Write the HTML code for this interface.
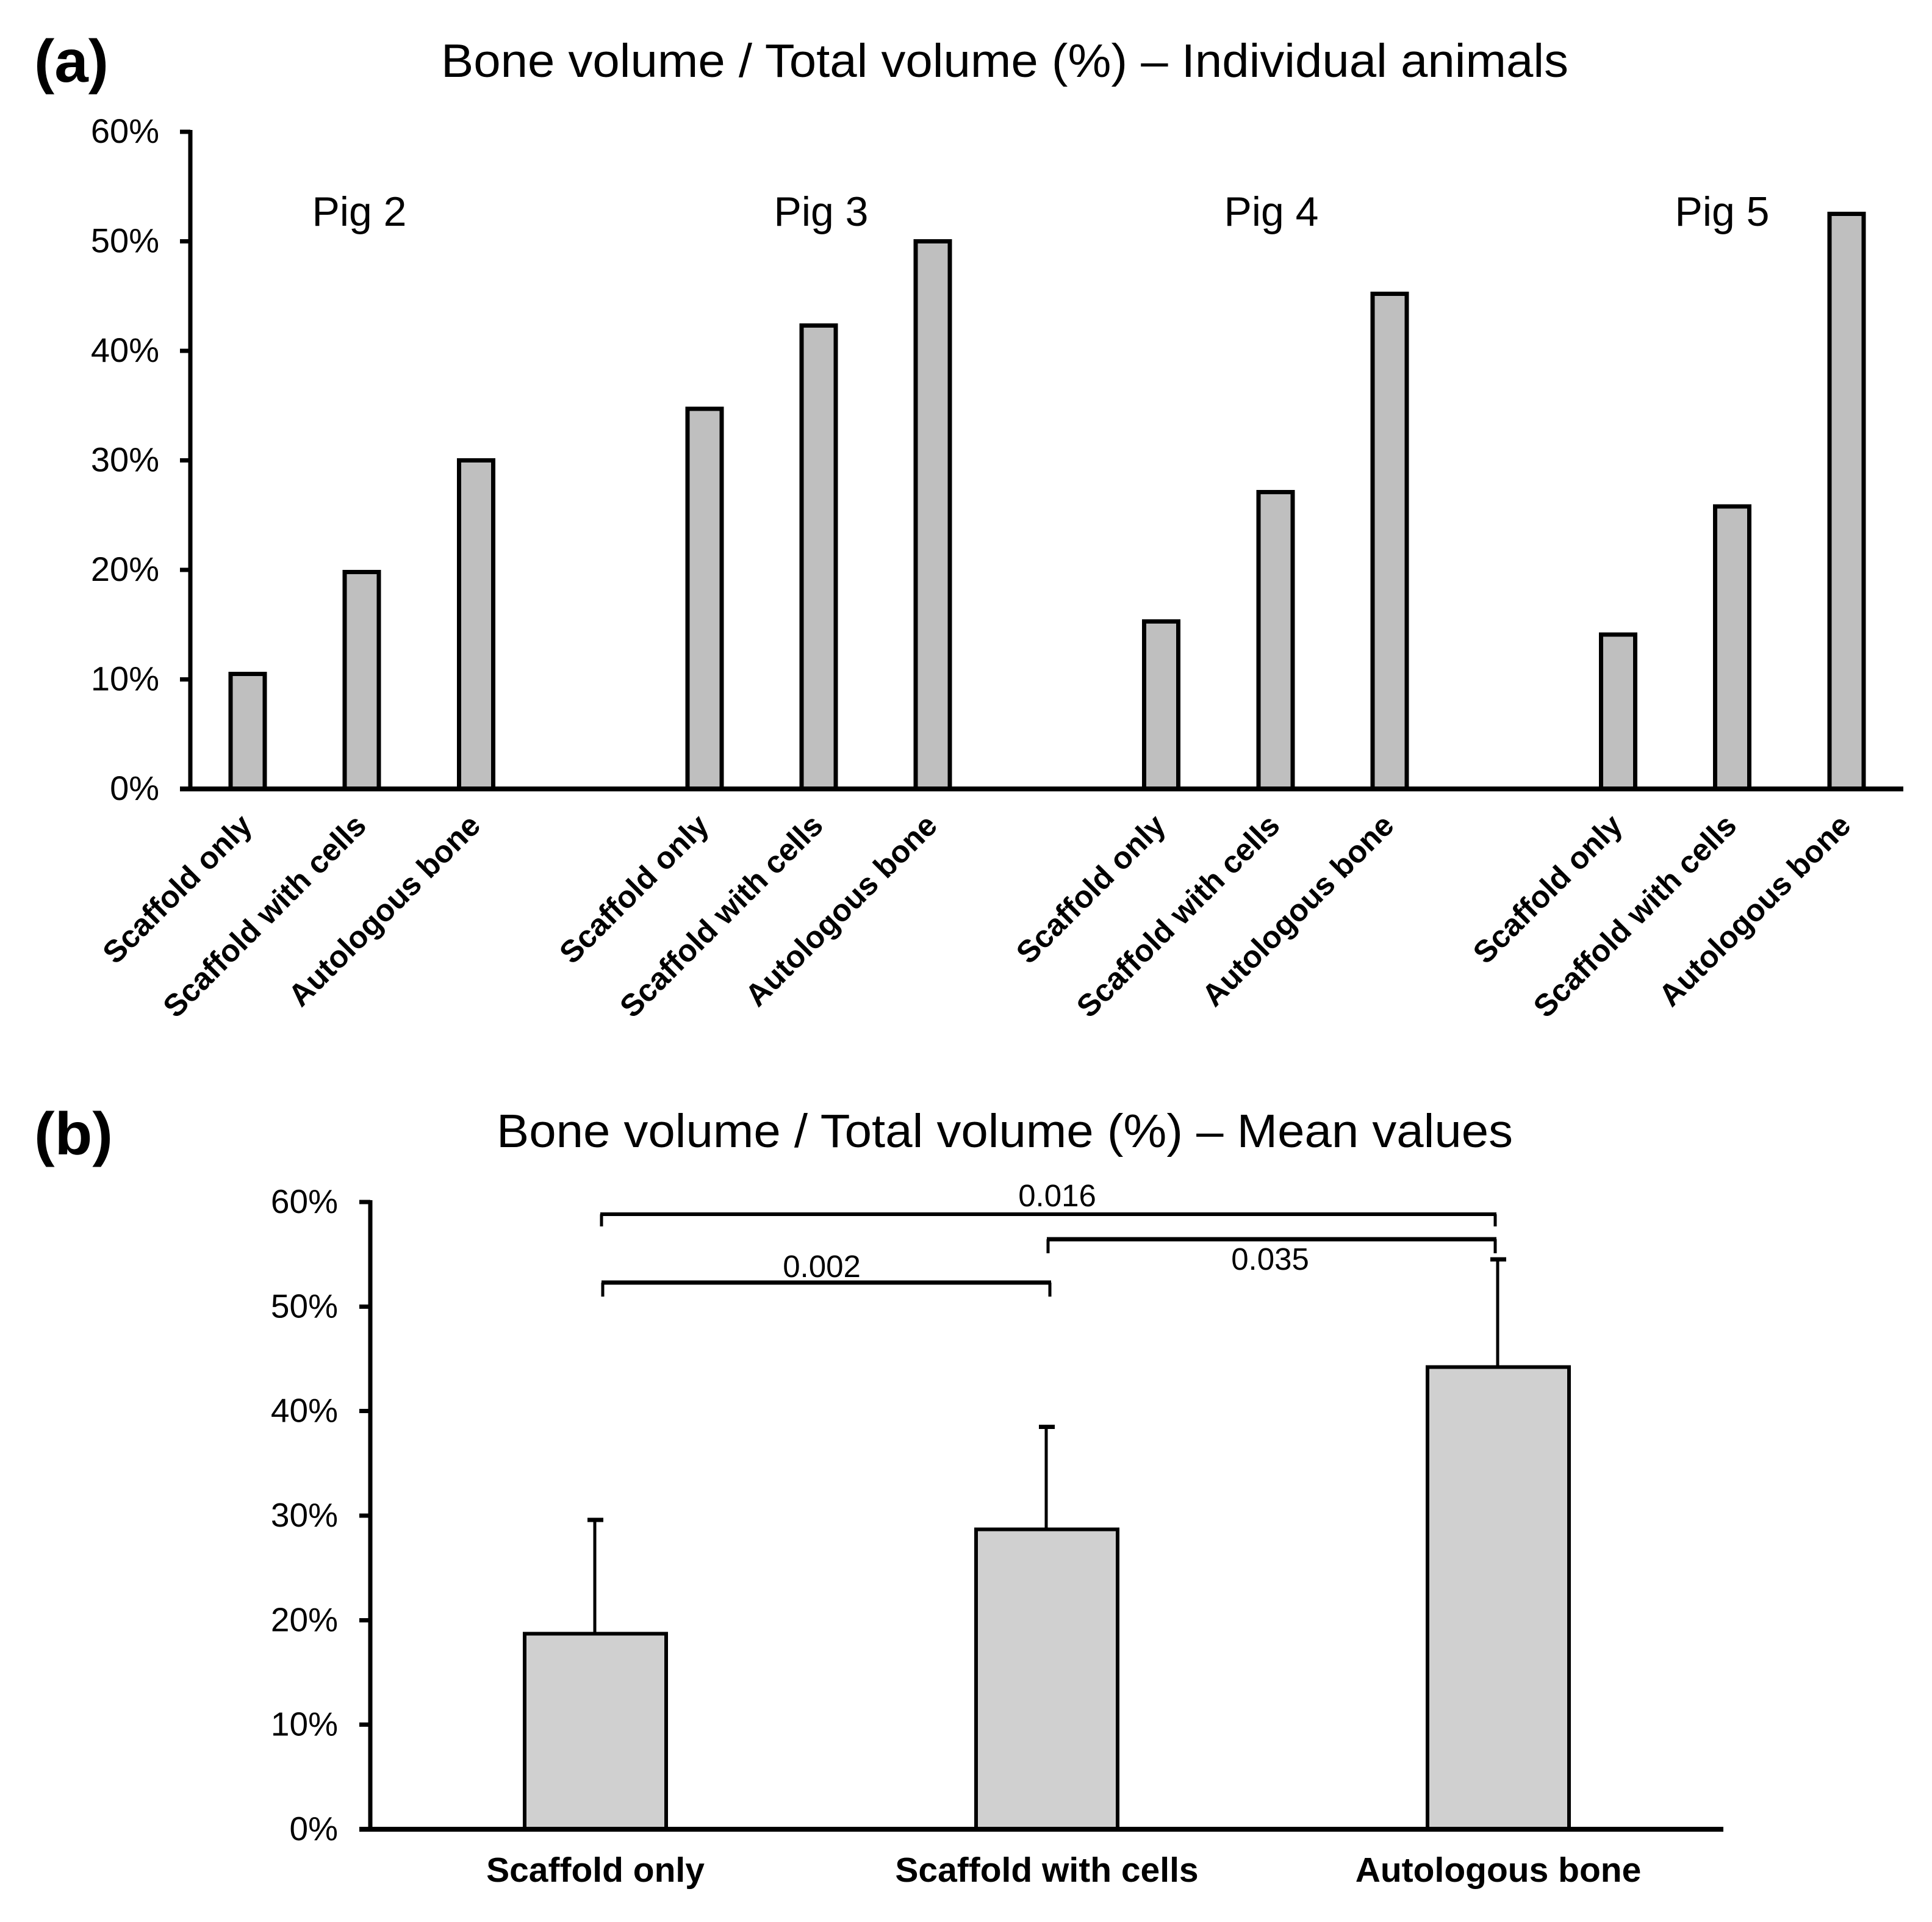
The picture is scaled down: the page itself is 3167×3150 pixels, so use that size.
<!DOCTYPE html>
<html lang="en">
<head>
<meta charset="utf-8">
<title>Bone volume / Total volume charts</title>
<style>
html,body{margin:0;padding:0;background:#fff;}
svg{display:block;}
text{font-family:"Liberation Sans",Arial,sans-serif;fill:#000;}
</style>
</head>
<body>
<svg id="figure" xmlns="http://www.w3.org/2000/svg" width="3167" height="3150" viewBox="0 0 3167 3150">
  <rect x="0" y="0" width="3167" height="3150" fill="#fff"/>
  <text x="56" y="134" font-size="98" font-weight="bold" textLength="122" lengthAdjust="spacingAndGlyphs">(a)</text>
  <text x="723" y="126" font-size="77" textLength="1848" lengthAdjust="spacingAndGlyphs">Bone volume / Total volume (%) – Individual animals</text>
  <text x="56" y="1892" font-size="98" font-weight="bold" textLength="129" lengthAdjust="spacingAndGlyphs">(b)</text>
  <text x="814" y="1880" font-size="77" textLength="1666" lengthAdjust="spacingAndGlyphs">Bone volume / Total volume (%) – Mean values</text>
  <text x="589" y="370" font-size="68" text-anchor="middle">Pig 2</text>
  <text x="1346" y="370" font-size="68" text-anchor="middle">Pig 3</text>
  <text x="2084" y="370" font-size="68" text-anchor="middle">Pig 4</text>
  <text x="2823" y="370" font-size="68" text-anchor="middle">Pig 5</text>
  <g id="chart-a"></g>
  <g id="chart-b"></g>
</svg>
<script>
const tickValues = [0, 10, 20, 30, 40, 50, 60];
const tickLabels = ["0%", "10%", "20%", "30%", "40%", "50%", "60%"];
const treatments = ["Scaffold only", "Scaffold with cells", "Autologous bone"];
const pig2Values = [10.5, 19.8, 30.0];
const pig3Values = [34.7, 42.3, 50.0];
const pig4Values = [15.3, 27.1, 45.2];
const pig5Values = [14.1, 25.8, 52.5];
const meanValues = [18.7, 28.7, 44.2];
const errorValues = [10.9, 9.8, 10.3];
const pValueLabels = ["0.002", "0.035", "0.016"];

const NS = "http://www.w3.org/2000/svg";
const BLACK = "#000";

function make(parent, tag, props) {
  const el = document.createElementNS(NS, tag);
  for (const k in props) el.setAttribute(k, props[k]);
  parent.appendChild(el);
  return el;
}
function hLine(parent, x1, x2, y, w) {
  return make(parent, "line", {x1: x1, x2: x2, y1: y, y2: y, stroke: BLACK, "stroke-width": w, "shape-rendering": "crispEdges"});
}
function vLine(parent, x, y1, y2, w) {
  return make(parent, "line", {x1: x, x2: x, y1: y1, y2: y2, stroke: BLACK, "stroke-width": w, "shape-rendering": "crispEdges"});
}

/* ---------- panel (a) ---------- */
const chartA = document.getElementById("chart-a");
const aAxis = {left: 312, right: 3120, zero: 1293, top: 216, tickLeft: 295, max: 60};
function ay(v) { return aAxis.zero - (aAxis.zero - aAxis.top) * v / aAxis.max; }
function ax(groupIndex, barIndex) { return 406 + 187.2 * (groupIndex * 4 + barIndex); }
const pigSeries = [pig2Values, pig3Values, pig4Values, pig5Values];

pigSeries.forEach(function (series, g) {
  series.forEach(function (value, i) {
    const cx = ax(g, i);
    const top = ay(value);
    const bar = make(chartA, "rect", {x: cx - 28, y: top, width: 56, height: aAxis.zero - top, fill: "#bfbfbf", stroke: BLACK, "stroke-width": 7, "shape-rendering": "crispEdges"});
    
    
  });

  treatments.forEach(function (name, i) {
    const ex = ax(g, i) + 10;
    const ey = 1356;
    const cat = make(chartA, "text", {x: ex, y: ey, "font-size": 51, "font-weight": "bold", "text-anchor": "end", transform: "rotate(-45 " + ex + " " + ey + ")"});
    cat.textContent = name;
    
    
  });
});

const aYAxis = vLine(chartA, aAxis.left, aAxis.top - 3, aAxis.zero, 7);


const aXAxis = hLine(chartA, aAxis.tickLeft, aAxis.right, aAxis.zero, 8);



tickValues.forEach(function (v, i) {
  const tick = hLine(chartA, aAxis.tickLeft, aAxis.left, ay(v), 7);
  
  
  const lab = make(chartA, "text", {x: 261, y: ay(v) + 18, "font-size": 56, "text-anchor": "end"});
  lab.textContent = tickLabels[i];
  
  
});

/* ---------- panel (b) ---------- */
const chartB = document.getElementById("chart-b");
const bAxis = {left: 607, right: 2825, zero: 2998, top: 1970, tickLeft: 589, max: 60};
function by(v) { return bAxis.zero - (bAxis.zero - bAxis.top) * v / bAxis.max; }
function bx(i) { return 976 + 740 * i; }

treatments.forEach(function (name, i) {
  const cx = bx(i);
  const top = by(meanValues[i]);
  const errTop = by(meanValues[i] + errorValues[i]);
  const bar = make(chartB, "rect", {x: cx - 116, y: top, width: 232, height: bAxis.zero - top, fill: "#d0d0d0", stroke: BLACK, "stroke-width": 6, "shape-rendering": "crispEdges"});
  
  
  const whisker = vLine(chartB, cx - 1, errTop, top, 5);
  
  
  const cap = hLine(chartB, cx - 13, cx + 13, errTop, 7);
  
  
  const cat = make(chartB, "text", {x: cx, y: 3084, "font-size": 57, "font-weight": "bold", "text-anchor": "middle"});
  cat.textContent = name;
  
  
});

const bYAxis = vLine(chartB, bAxis.left, bAxis.top - 3, bAxis.zero, 7);


const bXAxis = hLine(chartB, bAxis.tickLeft, bAxis.right, bAxis.zero, 8);



tickValues.forEach(function (v, i) {
  const tick = hLine(chartB, bAxis.tickLeft, bAxis.left, by(v), 7);
  
  
  const lab = make(chartB, "text", {x: 554, y: by(v) + 18, "font-size": 55, "text-anchor": "end"});
  lab.textContent = tickLabels[i];
  
  
});

function bracket(x1, x2, y, drop, barWidth, label, labelX, labelY) {
  const bar = hLine(chartB, x1 - 2, x2 + 2, y, barWidth);
  
  
  const leftDrop = vLine(chartB, x1, y, y + drop, 5);
  
  
  const rightDrop = vLine(chartB, x2, y, y + drop, 5);
  
  
  const t = make(chartB, "text", {x: labelX, y: labelY, "font-size": 51, "text-anchor": "middle"});
  t.textContent = label;
  
  
}
bracket(988, 1721, 2102, 23, 7, pValueLabels[0], 1347, 2093);
bracket(1718, 2451, 2031, 23, 7, pValueLabels[1], 2082, 2081);
bracket(986, 2451, 1990, 20, 6, pValueLabels[2], 1733, 1977);
</script>
</body>
</html>
